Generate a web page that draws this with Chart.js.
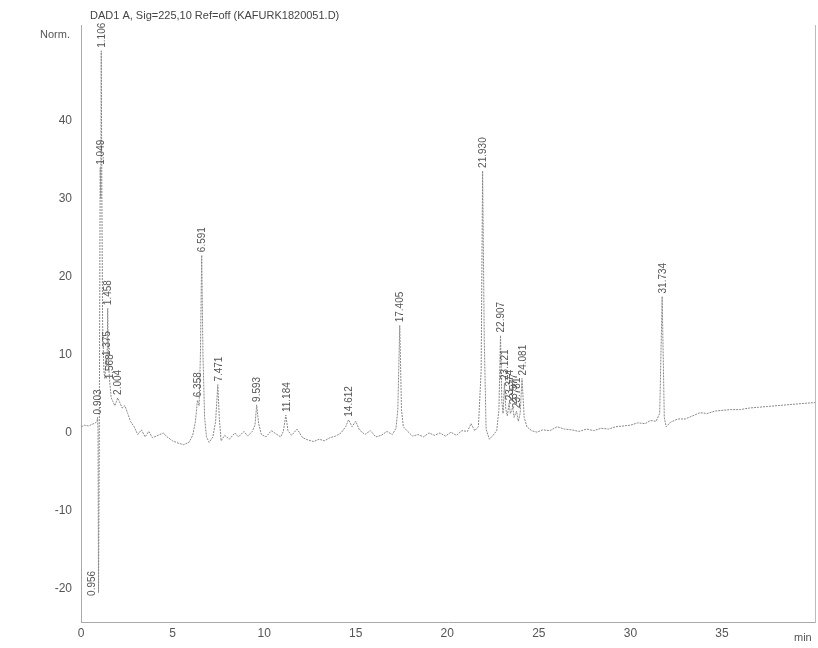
<!DOCTYPE html>
<html>
<head>
<meta charset="utf-8">
<title>DAD1 A chromatogram</title>
<script src="https://cdn.jsdelivr.net/npm/chart.js@4.4.1/dist/chart.umd.min.js"></script>
<style>
  html, body { margin: 0; padding: 0; background: #fff; }
  #wrap { width: 818px; height: 648px; position: relative; }
</style>
</head>
<body>
<div id="wrap"><canvas id="chrom"></canvas></div>
<script>
// retention time (min) and signal (Norm.)
const times = [
  0.00, 0.20, 0.40, 0.60, 0.80, 0.88, 0.903, 0.93, 0.956, 0.99, 1.02, 1.049, 1.08, 1.106, 1.14, 1.18,
  1.25, 1.30, 1.375, 1.42, 1.458, 1.50, 1.568, 1.65, 1.75, 1.85, 1.93, 2.004, 2.10, 2.25, 2.40, 2.55,
  2.70, 2.90, 3.10, 3.30, 3.50, 3.70, 3.90, 4.20, 4.50, 4.70, 5.00, 5.30, 5.60, 5.90, 6.10, 6.25,
  6.358, 6.45, 6.52, 6.591, 6.66, 6.75, 6.85, 7.00, 7.20, 7.35, 7.471, 7.55, 7.65, 7.85, 8.10, 8.40,
  8.60, 8.90, 9.10, 9.35, 9.50, 9.593, 9.70, 9.85, 10.10, 10.40, 10.70, 10.90, 11.05, 11.184, 11.30, 11.50,
  11.80, 12.10, 12.40, 12.70, 13.00, 13.30, 13.60, 13.90, 14.20, 14.45, 14.612, 14.80, 15.00, 15.20, 15.50, 15.80,
  16.10, 16.40, 16.70, 17.00, 17.20, 17.30, 17.405, 17.50, 17.60, 17.80, 18.10, 18.40, 18.70, 19.00, 19.30, 19.60,
  19.90, 20.20, 20.50, 20.80, 21.10, 21.30, 21.50, 21.70, 21.85, 21.930, 22.02, 22.12, 22.30, 22.50, 22.70, 22.82,
  22.907, 22.98, 23.05, 23.121, 23.20, 23.28, 23.374, 23.45, 23.577, 23.65, 23.781, 23.88, 23.98, 24.081, 24.20, 24.35,
  24.60, 24.90, 25.20, 25.60, 26.00, 26.40, 26.80, 27.20, 27.60, 28.00, 28.40, 28.80, 29.20, 29.60, 30.00, 30.40,
  30.80, 31.10, 31.40, 31.60, 31.734, 31.85, 31.95, 32.20, 32.60, 33.00, 33.40, 33.80, 34.20, 34.60, 35.00, 35.50,
  36.00, 36.50, 37.00, 37.50, 38.00, 38.50, 39.00, 39.50, 40.08
];
const signal = [
  0.8, 1.0, 0.9, 1.1, 1.3, 1.6, 2.0, 0.5, -20.5, -5.0, 15.0, 34.0, 30.0, 49.0, 30.0, 14.0,
  8.0, 7.0, 9.5, 8.5, 16.0, 9.0, 6.5, 4.5, 4.0, 3.5, 4.0, 4.5, 4.0, 3.2, 3.5, 2.5,
  1.5, 0.8, -0.2, 0.4, -0.5, 0.2, -0.6, -0.3, 0.0, -0.5, -1.0, -1.3, -1.5, -1.2, -0.3, 1.5,
  4.2, 3.5, 10.0, 22.8, 10.0, 2.0, -0.5, -1.2, -0.5, 1.5, 6.2, 2.0, -1.0, -0.3, -0.8, 0.0,
  -0.5, 0.2, -0.4, 0.2, 1.0, 3.6, 1.2, -0.2, -0.5, 0.3, -0.2, -0.5, 0.2, 2.3, 0.3, -0.3,
  0.5, -0.6, -0.9, -1.1, -0.8, -1.0, -0.6, -0.4, 0.0, 0.8, 1.7, 0.8, 1.5, 0.4, -0.2, 0.3,
  -0.5, -0.3, 0.2, -0.2, 0.6, 3.0, 13.8, 3.0, 0.8, 0.3, -0.4, -0.2, -0.5, 0.0, -0.3, 0.0,
  -0.4, 0.1, -0.3, 0.3, 0.2, 1.2, 0.3, 0.8, 8.0, 33.6, 12.0, 0.5, -0.8, -0.3, 0.3, 3.0,
  12.5, 4.0, 2.5, 6.4, 3.0, 2.2, 3.8, 2.5, 3.3, 2.0, 2.8, 1.5, 2.5, 7.0, 2.0, 0.8,
  0.3, 0.1, 0.4, 0.3, 0.8, 0.5, 0.4, 0.2, 0.5, 0.3, 0.6, 0.5, 0.8, 0.9, 1.0, 1.3,
  1.2, 1.6, 1.5, 2.5, 17.5, 2.0, 0.8, 1.4, 1.8, 1.8, 2.2, 2.6, 2.5, 2.8, 2.9, 3.0,
  3.0, 3.2, 3.3, 3.4, 3.5, 3.6, 3.7, 3.8, 3.9
];
// integrated peaks that carry a retention time label
const peakTimes = [0.903, 0.956, 1.049, 1.106, 1.375, 1.458, 1.568, 2.004, 6.358, 6.591, 7.471, 9.593,
  11.184, 14.612, 17.405, 21.930, 22.907, 23.121, 23.374, 23.577, 23.781, 24.081, 31.734];
const xTicks = [0, 5, 10, 15, 20, 25, 30, 35];
const yTicks = [-20, -10, 0, 10, 20, 30, 40];

const FONT = '"Liberation Sans", Arial, sans-serif';

// draws the rotated retention times, the header text and the unit labels
const annotatePlugin = {
  id: 'annotate',
  afterDatasetsDraw(chart) {
    const { ctx, scales: { x, y } } = chart;
    ctx.save();
    ctx.font = '10px ' + FONT;
    ctx.fillStyle = '#555';
    peakTimes.forEach(t => {
      const h = signal[times.indexOf(t)];
      let px = x.getPixelForValue(t);
      let py = y.getPixelForValue(h);
      if (h < 0) { px -= 6; py += 3; } else { px += 1; py -= 3; }
      ctx.save();
      ctx.translate(px, py);
      ctx.rotate(-Math.PI / 2);
      ctx.textAlign = 'left';
      ctx.textBaseline = 'middle';
      ctx.fillText(t.toFixed(3), 0, 0);
      ctx.restore();
    });
    ctx.font = '11px ' + FONT;
    ctx.fillStyle = '#444';
    ctx.textAlign = 'left';
    ctx.textBaseline = 'alphabetic';
    ctx.fillText('DAD1 A, Sig=225,10 Ref=off (KAFURK1820051.D)', 90, 19);
    ctx.fillStyle = '#555';
    ctx.fillText('Norm.', 40, 38);
    ctx.fillText('min', 794, 641);
    ctx.restore();
  }
};

new Chart(document.getElementById('chrom'), {
  type: 'line',
  data: {
    datasets: [{
      data: times.map((t, i) => ({ x: t, y: signal[i] })),
      borderColor: '#888',
      borderWidth: 1,
      borderDash: [2, 1],
      pointRadius: 0,
      tension: 0,
      fill: false
    }]
  },
  options: {
    responsive: true,
    maintainAspectRatio: false,
    animation: false,
    layout: { padding: { top: 25, right: 3, left: 0, bottom: 0 } },
    plugins: { legend: { display: false }, tooltip: { enabled: false }, title: { display: false } },
    scales: {
      x: {
        type: 'linear',
        min: 0,
        max: 40.08,
        grid: { display: false, drawTicks: false },
        border: { display: true, color: '#aaa', dash: [1, 2] },
        afterBuildTicks: s => { s.ticks = xTicks.map(v => ({ value: v })); },
        ticks: { color: '#555', font: { family: FONT, size: 12 }, padding: 4, maxRotation: 0, autoSkip: false },
        afterFit: s => { s.height = 26; }
      },
      y: {
        min: -24.23,
        max: 52.3,
        grid: { display: false, drawTicks: false },
        border: { display: true, color: '#aaa', dash: [1, 2] },
        afterBuildTicks: s => { s.ticks = yTicks.map(v => ({ value: v })); },
        ticks: { color: '#555', font: { family: FONT, size: 12 }, padding: 9 },
        afterFit: s => { s.width = 81; }
      },
      y2: {
        position: 'right',
        grid: { display: false, drawTicks: false },
        border: { display: true, color: '#bbb', dash: [1, 2] },
        ticks: { display: false },
        afterFit: s => { s.width = 0; }
      }
    }
  },
  plugins: [annotatePlugin]
});
</script>
</body>
</html>
